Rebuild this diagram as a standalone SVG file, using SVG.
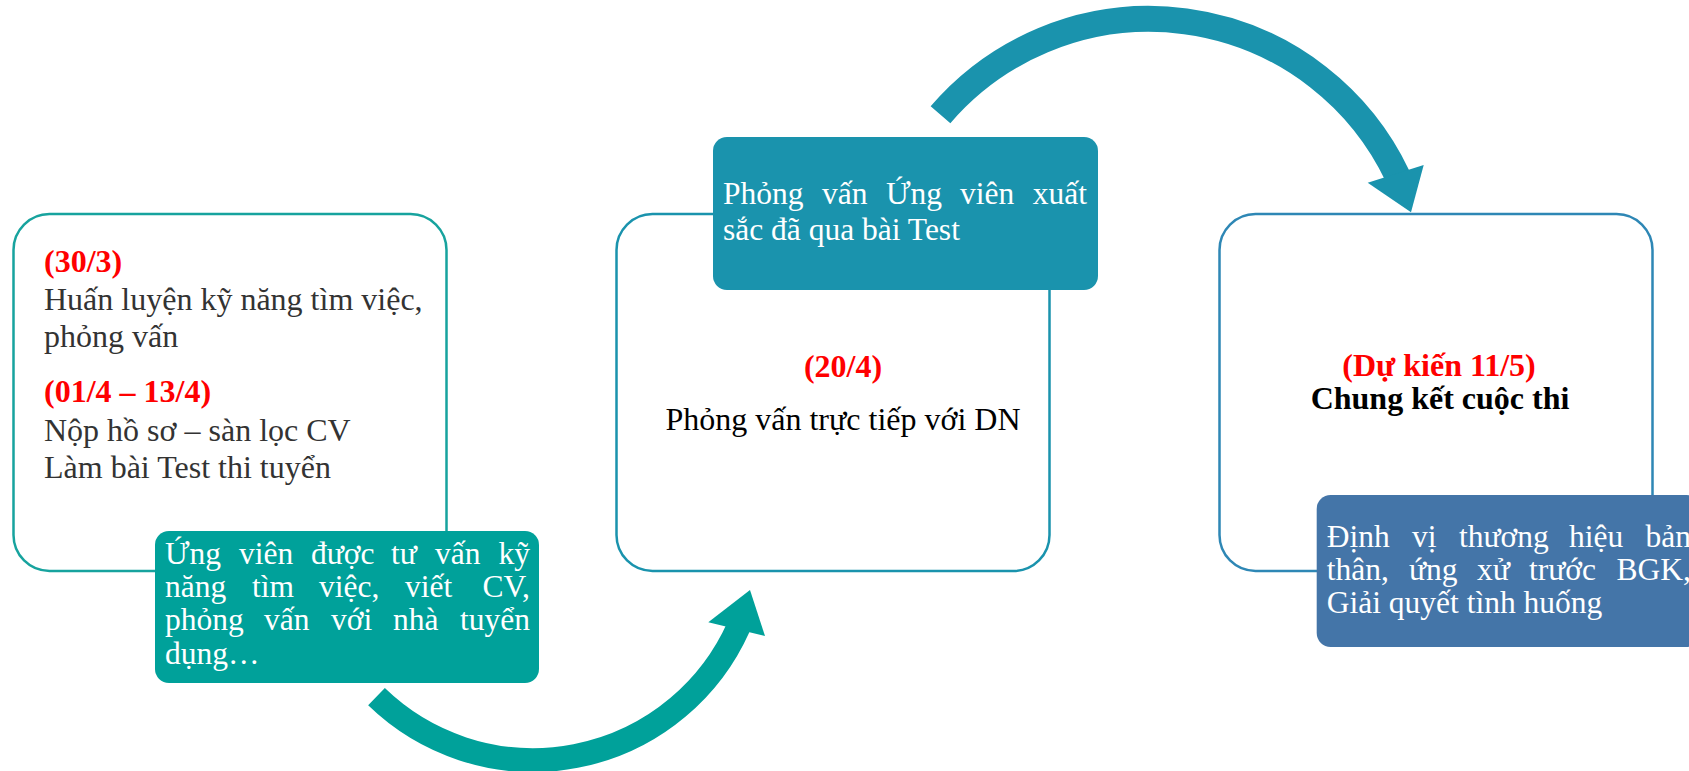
<svg xmlns="http://www.w3.org/2000/svg" width="1689" height="771" viewBox="0 0 1689 771">
<style>
.t{font-family:"Liberation Serif","Times New Roman",serif;font-size:32px}
.w{font-family:"Liberation Serif","Times New Roman",serif;font-size:31.5px;fill:#ffffff}
.b{font-weight:bold}
.red{fill:#ff0000}
.box{fill:#ffffff;stroke-width:2.5}
</style>
<rect width="1689" height="771" fill="#ffffff"/>

<g id="stage1">
  <rect class="box" x="13.5" y="214" width="433" height="357" rx="36" stroke="#17A39E"/>
  <text class="t b red" x="44" y="272">(30/3)</text>
  <text class="t" fill="#333333" x="44" y="310">Huấn luyện kỹ năng tìm việc,</text>
  <text class="t" fill="#333333" x="44" y="347">phỏng vấn</text>
  <text class="t b red" x="44" y="402">(01/4 – 13/4)</text>
  <text class="t" fill="#333333" x="44" y="441">Nộp hồ sơ – sàn lọc CV</text>
  <text class="t" fill="#333333" x="44" y="478">Làm bài Test thi tuyển</text>
</g>

<g id="stage2">
  <rect class="box" x="616.5" y="214" width="433" height="357" rx="36" stroke="#1A93AD"/>
  <text class="t b red" x="843" y="377" text-anchor="middle">(20/4)</text>
  <text class="t" x="843" y="430" text-anchor="middle" fill="#000000">Phỏng vấn trực tiếp với DN</text>
</g>

<g id="stage3">
  <rect class="box" x="1219.5" y="214" width="433" height="357" rx="36" stroke="#2E87B5"/>
  <text class="t b red" x="1439" y="376" text-anchor="middle">(Dự kiến 11/5)</text>
  <text class="t b" x="1440" y="409" text-anchor="middle" fill="#000000">Chung kết cuộc thi</text>
</g>

<g id="note1">
  <rect x="155" y="531" width="384" height="152" rx="14" fill="#00A19A"/>
  <text class="w" y="564"><tspan x="165">Ứng</tspan><tspan x="239">viên</tspan><tspan x="311">được</tspan><tspan x="391">tư</tspan><tspan x="435">vấn</tspan><tspan x="530" text-anchor="end">kỹ</tspan></text>
  <text class="w" y="597"><tspan x="165">năng</tspan><tspan x="252">tìm</tspan><tspan x="319">việc,</tspan><tspan x="405">viết</tspan><tspan x="530" text-anchor="end">CV,</tspan></text>
  <text class="w" y="630"><tspan x="165">phỏng</tspan><tspan x="264">vấn</tspan><tspan x="331">với</tspan><tspan x="393">nhà</tspan><tspan x="530" text-anchor="end">tuyển</tspan></text>
  <text class="w" x="165" y="664">dụng…</text>
</g>

<g id="note2">
  <rect x="713" y="137" width="385" height="153" rx="14" fill="#1A93AD"/>
  <text class="w" y="204"><tspan x="723">Phỏng</tspan><tspan x="822">vấn</tspan><tspan x="886">Ứng</tspan><tspan x="960">viên</tspan><tspan x="1087" text-anchor="end">xuất</tspan></text>
  <text class="w" x="723" y="240">sắc đã qua bài Test</text>
</g>

<g id="note3">
  <rect x="1316.7" y="495" width="384" height="152" rx="14" fill="#4475A8"/>
  <text class="w" y="547"><tspan x="1326.7">Định</tspan><tspan x="1412">vị</tspan><tspan x="1459">thương</tspan><tspan x="1569">hiệu</tspan><tspan x="1691" text-anchor="end">bản</tspan></text>
  <text class="w" y="580"><tspan x="1326.7">thân,</tspan><tspan x="1409">ứng</tspan><tspan x="1477">xử</tspan><tspan x="1529">trước</tspan><tspan x="1691" text-anchor="end">BGK,</tspan></text>
  <text class="w" x="1326.7" y="613">Giải quyết tình huống</text>
</g>

<g id="connectors">
  <g id="arrow-1-2">
    <path d="M 376.5 696.7 A 225 225 0 0 0 738.5 627" fill="none" stroke="#00A19A" stroke-width="24"/>
    <polygon points="708.3,622.3 750,590 765,636" fill="#00A19A"/>
  </g>
  <g id="arrow-2-3">
    <path d="M 940.5 114.7 A 275 275 0 0 1 1397.5 176" fill="none" stroke="#1A93AD" stroke-width="26"/>
    <polygon points="1367.7,182.7 1411,212.3 1423.7,165" fill="#1A93AD"/>
  </g>
</g>
</svg>
